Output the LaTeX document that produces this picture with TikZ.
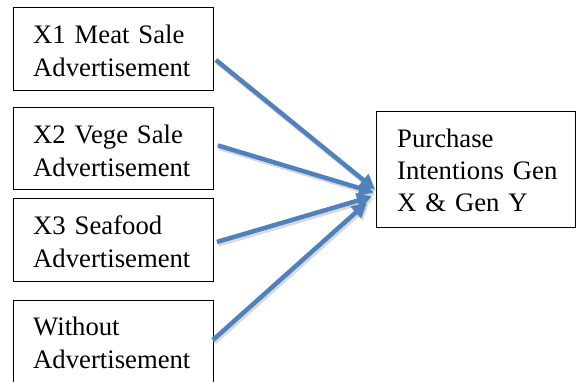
\documentclass[tikz,border=0pt]{standalone}
\usepackage{fontspec}
\setmainfont{Liberation Serif}
\usetikzlibrary{arrows.meta,calc}
\definecolor{arrowblue}{RGB}{79,129,189}
\tikzset{
  box/.style={draw=black, line width=0.9pt, anchor=north west, inner sep=0pt, minimum width=200pt},
  lbl/.style={anchor=base west, inner sep=0pt, align=left, text width=190pt,
              font=\fontsize{26.7pt}{33pt}\selectfont},
  link/.style={draw=arrowblue, line width=4.5pt,
               -{Triangle[length=15pt,width=15pt]}, shorten >=0pt},
  shade/.style={draw=black!25, line width=4.5pt, opacity=0.6,
               -{Triangle[length=15pt,width=15pt]}}
}
\begin{document}
\begin{tikzpicture}[x=1pt,y=-1pt]
\useasboundingbox (0,0) rectangle (576,381);
\clip (0,0) rectangle (576,381);
% boxes
\node[box, minimum height=83pt] (b1) at (13,7) {};
\node[box, minimum height=82pt] (b2) at (13,107) {};
\node[box, minimum height=83pt] (b3) at (13,198) {};
\node[box, minimum height=100pt] (b4) at (13,300) {};
\node[box, minimum width=199pt, minimum height=116pt] (b5) at (376,111) {};
% labels
\node[lbl] (t1) at ($(b1.north west)+(20,36)$) {X1 Meat Sale\\Advertisement};
\node[lbl] (t2) at ($(b2.north west)+(20,36)$) {X2 Vege Sale\\Advertisement};
\node[lbl] (t3) at ($(b3.north west)+(20,36)$) {X3 Seafood\\Advertisement};
\node[lbl] (t4) at ($(b4.north west)+(20,35)$) {Without\\Advertisement};
\node[lbl, font=\fontsize{26.7pt}{32pt}\selectfont] (t5) at ($(b5.north west)+(21,36)$) {Purchase\\Intentions Gen\\X \& Gen Y};
% connector end points
\coordinate (s1) at ($(b1.east)+(2,11)$);
\coordinate (s2) at ($(b2.east)+(4,-3)$);
\coordinate (s3) at ($(b3.east)+(3,2)$);
\coordinate (s4) at ($(b4.north east)+(-1,40)$);
\coordinate (e1) at ($(b5.west)+(-1,20)$);
\coordinate (e2) at ($(b5.west)+(-2,23)$);
\coordinate (e3) at ($(b5.west)+(-4,27)$);
\coordinate (e4) at ($(b5.west)+(-9,33)$);
% shadows
\foreach \s/\e in {s1/e1,s2/e2,s3/e3,s4/e4}{
  \draw[shade] ([shift={(1.5,2.5)}]\s) -- ([shift={(1.5,2.5)}]\e);
}
% arrows
\draw[link] (s1) -- (e1);
\draw[link] (s2) -- (e2);
\draw[link] (s3) -- (e3);
\draw[link] (s4) -- (e4);
\end{tikzpicture}
\end{document}
